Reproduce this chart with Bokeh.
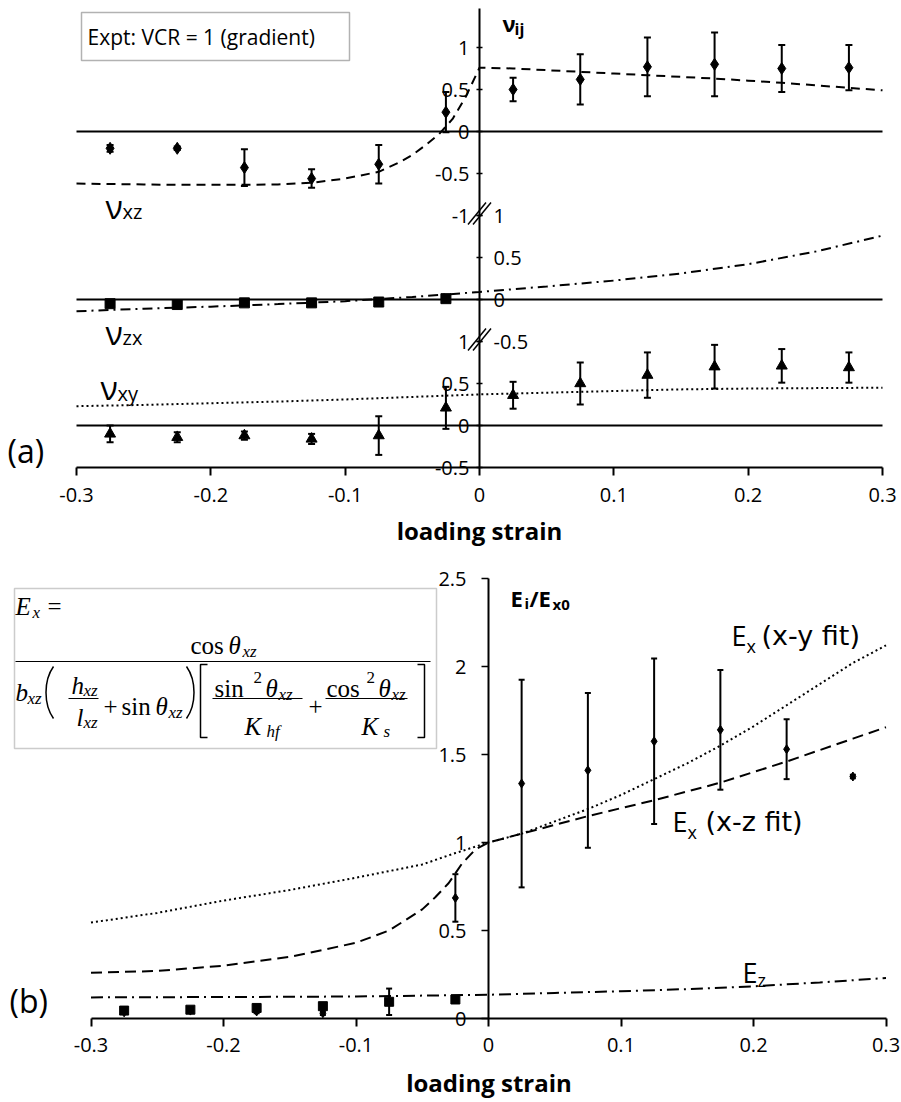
import numpy as np
from bokeh.plotting import figure
from bokeh.models import (LinearAxis, FixedTicker, Range1d, ColumnDataSource,
                          Whisker, TeeHead, BoxAnnotation)
from bokeh.layouts import column
from bokeh.embed import file_html
from bokeh.resources import INLINE
from bokeh.core.properties import value

# ================= DATA : panel (a) Poisson's ratios =================
strain = [-0.275, -0.225, -0.175, -0.125, -0.075, -0.025,
          0.025, 0.075, 0.125, 0.175, 0.225, 0.275]
nu_xz = [-0.20, -0.20, -0.43, -0.56, -0.39, 0.23, 0.50, 0.62, 0.77, 0.80, 0.75, 0.76]
nu_xz_err = [0.04, 0.02, 0.22, 0.11, 0.23, 0.24, 0.14, 0.30, 0.35, 0.38, 0.28, 0.27]
strain_zx = [-0.275, -0.225, -0.175, -0.125, -0.075, -0.025]
nu_zx = [-0.05, -0.06, -0.04, -0.04, -0.03, 0.01]
nu_xy = [-0.10, -0.14, -0.12, -0.16, -0.12, 0.21, 0.36, 0.50, 0.60, 0.70, 0.71, 0.69]
nu_xy_err = [0.10, 0.06, 0.05, 0.06, 0.23, 0.25, 0.16, 0.25, 0.27, 0.26, 0.20, 0.18]

fit_xz_x = [-0.3, -0.275, -0.25, -0.225, -0.2, -0.175, -0.15, -0.125, -0.1, -0.075,
            -0.06, -0.05, -0.04, -0.03, -0.02, -0.01, 0.0, 0.025, 0.05, 0.075, 0.1,
            0.125, 0.15, 0.175, 0.2, 0.225, 0.25, 0.275, 0.3]
fit_xz_y = [-0.62, -0.625, -0.63, -0.635, -0.635, -0.635, -0.63, -0.61, -0.56, -0.48,
            -0.37, -0.28, -0.16, -0.03, 0.15, 0.42, 0.76, 0.75, 0.73, 0.71, 0.69,
            0.67, 0.65, 0.63, 0.605, 0.58, 0.55, 0.52, 0.49]
fit_zx_x = [-0.3, -0.25, -0.2, -0.15, -0.1, -0.05, 0.0, 0.05, 0.1, 0.15, 0.2, 0.25, 0.3]
fit_zx_y = [-0.14, -0.11, -0.085, -0.055, -0.02, 0.03, 0.09, 0.155, 0.225, 0.31, 0.42, 0.57, 0.76]
fit_xy_x = [-0.3, -0.25, -0.2, -0.15, -0.1, -0.05, 0.0, 0.05, 0.1, 0.15, 0.2, 0.25, 0.3]
fit_xy_y = [0.23, 0.245, 0.265, 0.285, 0.31, 0.34, 0.37, 0.39, 0.41, 0.43, 0.44, 0.445, 0.45]

x_ticks = [-0.3, -0.2, -0.1, 0.0, 0.1, 0.2, 0.3]
x_tick_labels = ["-0.3", "-0.2", "-0.1", "0", "0.1", "0.2", "0.3"]
nu_top_ticks = [1.0, 0.5, 0.0, -0.5, -1.0]
nu_top_labels = ["1", "0.5", "0", "-0.5", "-1"]
nu_ticks = [1.0, 0.5, 0.0, -0.5]
nu_labels = ["1", "0.5", "0", "-0.5"]

# ================= DATA : panel (b) moduli =================
ex_x = [-0.275, -0.225, -0.175, -0.125, -0.025, 0.025, 0.075, 0.125, 0.175, 0.225, 0.275]
ex_y = [0.035, 0.045, 0.04, 0.03, 0.685, 1.335, 1.41, 1.575, 1.64, 1.53, 1.375]
ex_err = [0.01, 0.01, 0.01, 0.01, 0.135, 0.59, 0.44, 0.47, 0.34, 0.17, 0.01]
ez_x = [-0.275, -0.225, -0.175, -0.125, -0.075, -0.025]
ez_y = [0.045, 0.05, 0.06, 0.07, 0.095, 0.108]
ez_err = [0.01, 0.01, 0.01, 0.01, 0.075, 0.02]

fit_exy_x = [-0.3, -0.25, -0.2, -0.15, -0.1, -0.05, -0.025, 0.0, 0.025, 0.05, 0.075, 0.1,
             0.125, 0.15, 0.175, 0.2, 0.225, 0.25, 0.275, 0.3]
fit_exy_y = [0.545, 0.60, 0.67, 0.73, 0.80, 0.875, 0.94, 1.0, 1.05, 1.12, 1.19, 1.27,
             1.36, 1.45, 1.55, 1.66, 1.78, 1.90, 2.02, 2.12]
fit_exz_x = [-0.3, -0.25, -0.2, -0.15, -0.1, -0.075, -0.05, -0.04, -0.03, -0.02, -0.01, 0.0,
             0.025, 0.05, 0.075, 0.1, 0.125, 0.15, 0.175, 0.2, 0.225, 0.25, 0.275, 0.3]
fit_exz_y = [0.26, 0.27, 0.30, 0.35, 0.43, 0.50, 0.62, 0.69, 0.77, 0.88, 0.96, 1.0,
             1.05, 1.10, 1.15, 1.195, 1.24, 1.29, 1.34, 1.40, 1.46, 1.525, 1.59, 1.655]
fit_ez_x = [-0.3, -0.2, -0.1, 0.0, 0.05, 0.1, 0.15, 0.2, 0.25, 0.3]
fit_ez_y = [0.12, 0.122, 0.125, 0.135, 0.145, 0.155, 0.167, 0.183, 0.205, 0.23]

E_ticks = [0.0, 0.5, 1.0, 1.5, 2.0, 2.5]
E_labels = ["0", "0.5", "1", "1.5", "2", "2.5"]

# ================= layout helpers =================
FONT = "Open Sans"
WIDE = "DejaVu Sans"
SERIF = "Liberation Serif"
OFF_XZ, OFF_ZX, OFF_XY = 3.5, 1.5, 0.0     # offsets of the broken (stacked) axis
A_SX, A_X0, A_SY, A_Y0 = 806 / 0.6, 479.0, 84.0, 425.0
B_SX, B_X0, B_SY, B_Y0 = 1325.0, 488.0, 176.0, 1018.0
A_H = 556
B_TOP = float(A_H)


def ax(px): return (px - A_X0) / A_SX
def ay(py): return (A_Y0 - py) / A_SY
def bx(px): return (px - B_X0) / B_SX
def by(py): return (B_Y0 - py) / B_SY


def txt(p, x, y, s, size, font=FONT, style="normal", align="left", base="alphabetic"):
    p.text(x=[x], y=[y], text=[s], text_font=value(font), text_font_size=value(size),
           text_font_style=value(style), text_align=value(align),
           text_baseline=value(base), text_color="black")


def make_fig(h, xr, yr, x_at, tick_standoff, label_standoff):
    p = figure(width=901, height=h, x_range=xr, y_range=yr, output_backend="svg",
               toolbar_location=None, y_axis_location=None,
               min_border_left=0, min_border_right=0, min_border_top=0,
               min_border_bottom=0)
    p.outline_line_color = None
    p.grid.visible = False
    p.background_fill_color = "white"
    p.border_fill_color = "white"
    xa = p.xaxis[0]
    xa.fixed_location = x_at
    xa.ticker = FixedTicker(ticks=x_ticks)
    xa.major_label_overrides = dict(zip(x_ticks, x_tick_labels))
    xa.bounds = (-0.3, 0.3)
    xa.axis_line_width = 2
    xa.axis_line_color = "black"
    xa.major_tick_line_width = 2
    xa.major_tick_in = 0
    xa.major_tick_out = 8
    xa.minor_tick_line_color = None
    xa.major_label_text_font = FONT
    xa.major_label_text_font_size = "20px"
    xa.major_label_text_color = "black"
    xa.major_label_standoff = tick_standoff
    xa.axis_label = "loading strain"
    xa.axis_label_text_font = FONT
    xa.axis_label_text_font_style = "bold"
    xa.axis_label_text_font_size = "24px"
    xa.axis_label_text_color = "black"
    xa.axis_label_standoff = label_standoff
    return p


def yaxis(ticks, labels, side_standoff, bounds, tin, tout, line=True):
    a = LinearAxis(fixed_location=0, ticker=FixedTicker(ticks=ticks),
                   major_label_overrides=dict(zip(ticks, labels)), bounds=bounds,
                   axis_line_width=2, axis_line_color="black" if line else None,
                   major_tick_in=tin, major_tick_out=tout, major_tick_line_width=1.5,
                   minor_tick_line_color=None, major_label_standoff=side_standoff,
                   major_label_text_font=FONT, major_label_text_font_size="20px",
                   major_label_text_color="black")
    return a


def errbars(p, xs, ys, es, off, head):
    src = ColumnDataSource(dict(x=xs, lo=[y + off - e for y, e in zip(ys, es)],
                                up=[y + off + e for y, e in zip(ys, es)]))
    w = Whisker(base="x", lower="lo", upper="up", source=src, line_color="black", line_width=2,
                lower_head=TeeHead(size=head, line_width=2, line_color="black"),
                upper_head=TeeHead(size=head, line_width=2, line_color="black"))
    p.add_layout(w)


# ================= panel (a) =================
p1 = make_fig(A_H, Range1d(ax(0), ax(901)), Range1d(ay(A_H), ay(0)), -0.5, 12, 9)

left_ticks = [t + OFF_XZ for t in nu_top_ticks] + [t + OFF_XY for t in nu_ticks]
left_labels = nu_top_labels + nu_labels
p1.add_layout(yaxis(left_ticks, left_labels, 7, (-0.5, 4.96), 3, 3), "left")
right_ticks = [t + OFF_ZX for t in nu_ticks]
p1.add_layout(yaxis(right_ticks, nu_labels, 11, (-0.5, 4.96), 3, 3, line=False), "right")

# zero lines of the three stacked sub-panels
p1.segment(x0=[x_ticks[0]] * 3, x1=[x_ticks[-1]] * 3,
           y0=[OFF_XZ, OFF_ZX, OFF_XY], y1=[OFF_XZ, OFF_ZX, OFF_XY],
           line_color="black", line_width=2)

# axis breaks
for yc_px in (213, 339):
    for d in (-2.5, 2.5):
        p1.segment(x0=[ax(470 + d)], y0=[ay(yc_px + 11)], x1=[ax(488 + d)], y1=[ay(yc_px - 11)],
                   line_color="black", line_width=1.5)

# fits
p1.line(fit_xz_x, [v + OFF_XZ for v in fit_xz_y], line_color="black", line_width=2, line_dash="9 6")
p1.line(fit_zx_x, [v + OFF_ZX for v in fit_zx_y], line_color="black", line_width=2, line_dash="10 5 2 5")
p1.line(fit_xy_x, [v + OFF_XY for v in fit_xy_y], line_color="black", line_width=2, line_dash="2 3")

errbars(p1, strain, nu_xz, nu_xz_err, OFF_XZ, 7)
errbars(p1, strain, nu_xy, nu_xy_err, OFF_XY, 7)
p1.scatter(strain, [v + OFF_XZ for v in nu_xz], marker="diamond", size=12, color="black")
p1.scatter(strain_zx, [v + OFF_ZX for v in nu_zx], marker="square", size=10, color="black")
p1.scatter(strain, [v + OFF_XY for v in nu_xy], marker="triangle", size=11, color="black")

# texts
p1.add_layout(BoxAnnotation(left=ax(81), right=ax(349), top=ay(12), bottom=ay(60),
                            fill_color=None, line_color="black", line_width=1.5))
txt(p1, ax(87), ay(36), "Expt: VCR = 1 (gradient)", "21px", base="middle")
txt(p1, ax(105), ay(206), "ν", "32px")
txt(p1, ax(122), ay(211), "xz", "20px")
txt(p1, ax(105), ay(332), "ν", "32px")
txt(p1, ax(122), ay(337), "zx", "20px")
txt(p1, ax(100), ay(387), "ν", "32px")
txt(p1, ax(117), ay(393), "xy", "20px")
txt(p1, ax(502), ay(22), "ν", "22px", style="bold")
txt(p1, ax(514), ay(28), "ij", "16px", style="bold")
txt(p1, ax(7), ay(450), "(a)", "32px", base="middle")

# ================= panel (b) =================
p2 = make_fig(1102 - A_H, Range1d(bx(0), bx(901)), Range1d(by(1102), by(B_TOP)), 0.0, 11, 11)
p2.add_layout(yaxis(E_ticks, E_labels, 15, (0, 2.5), 0, 7), "left")

p2.line(fit_exy_x, fit_exy_y, line_color="black", line_width=2, line_dash="2 3")
p2.line(fit_exz_x, fit_exz_y, line_color="black", line_width=2, line_dash="11 6")
p2.line(fit_ez_x, fit_ez_y, line_color="black", line_width=2, line_dash="12 5 2 5")

errbars(p2, ex_x, ex_y, ex_err, 0.0, 6)
errbars(p2, ez_x, ez_y, ez_err, 0.0, 6)
p2.scatter(ex_x, ex_y, marker="diamond", size=9, color="black")
p2.scatter(ez_x, ez_y, marker="square", size=9, color="black")

txt(p2, bx(9), by(1000), "(b)", "32px", base="middle")
txt(p2, bx(510), by(597), "E", "22px", style="bold")
txt(p2, bx(524), by(602), "i", "15px", style="bold")
txt(p2, bx(529), by(597), "/E", "22px", style="bold")
txt(p2, bx(552), by(603), "x0", "15px", style="bold")
txt(p2, bx(731), by(635), "E", "27px")
txt(p2, bx(746), by(645), "x", "18px")
txt(p2, bx(761), by(635), "(x-y fit)", "27px", font=WIDE)
txt(p2, bx(672), by(821), "E", "27px")
txt(p2, bx(687), by(831), "x", "18px")
txt(p2, bx(705), by(821), "(x-z fit)", "27px", font=WIDE)
txt(p2, bx(742), by(972), "E", "27px")
txt(p2, bx(757), by(979), "z", "18px")

# ---- formula box ----
p2.add_layout(BoxAnnotation(left=bx(14), right=bx(436), top=by(588), bottom=by(748),
                            fill_color=None, line_color="#555555", line_width=1.5))
F, FS = "25px", "17px"
txt(p2, bx(15), by(606), "E", F, SERIF, "italic")
txt(p2, bx(32), by(612), "x", FS, SERIF, "italic")
txt(p2, bx(47), by(606), "=", F, SERIF)
txt(p2, bx(190), by(645), "cos", F, SERIF)
txt(p2, bx(228), by(645), "θ", F, SERIF, "italic")
txt(p2, bx(242), by(651), "xz", FS, SERIF, "italic")
# denominator
txt(p2, bx(15), by(692), "b", F, SERIF, "italic")
txt(p2, bx(27), by(698), "xz", FS, SERIF, "italic")
txt(p2, bx(71), by(685), "h", F, SERIF, "italic")
txt(p2, bx(83), by(690), "xz", FS, SERIF, "italic")
txt(p2, bx(76), by(717), "l", F, SERIF, "italic")
txt(p2, bx(83), by(722), "xz", FS, SERIF, "italic")
txt(p2, bx(103), by(706), "+", F, SERIF)
txt(p2, bx(121), by(706), "sin", F, SERIF)
txt(p2, bx(155), by(706), "θ", F, SERIF, "italic")
txt(p2, bx(168), by(712), "xz", FS, SERIF, "italic")
txt(p2, bx(214), by(688), "sin", F, SERIF)
txt(p2, bx(253), by(677), "2", FS, SERIF)
txt(p2, bx(265), by(688), "θ", F, SERIF, "italic")
txt(p2, bx(278), by(694), "xz", FS, SERIF, "italic")
txt(p2, bx(244), by(726), "K", F, SERIF, "italic")
txt(p2, bx(266), by(731), "hf", FS, SERIF, "italic")
txt(p2, bx(308), by(706), "+", F, SERIF)
txt(p2, bx(326), by(688), "cos", F, SERIF)
txt(p2, bx(366), by(677), "2", FS, SERIF)
txt(p2, bx(378), by(688), "θ", F, SERIF, "italic")
txt(p2, bx(391), by(694), "xz", FS, SERIF, "italic")
txt(p2, bx(361), by(726), "K", F, SERIF, "italic")
txt(p2, bx(383), by(731), "s", FS, SERIF, "italic")
# fraction bars
p2.segment(x0=[bx(15), bx(68), bx(212), bx(325)], x1=[bx(430), bx(98), bx(302), bx(407)],
           y0=[by(661), by(698), by(698), by(698)], y1=[by(661), by(698), by(698), by(698)],
           line_color="black", line_width=1.2)
# parentheses and brackets
p2.bezier(x0=[bx(53), bx(186)], y0=[by(666), by(666)], x1=[bx(53), bx(186)], y1=[by(718), by(718)],
          cx0=[bx(43), bx(196)], cy0=[by(680), by(680)], cx1=[bx(43), bx(196)], cy1=[by(704), by(704)],
          line_color="black", line_width=1.5)
p2.multi_line(xs=[[bx(207), bx(200), bx(200), bx(207)], [bx(417), bx(424), bx(424), bx(417)]],
              ys=[[by(664), by(664), by(737), by(737)], [by(664), by(664), by(737), by(737)]],
              line_color="black", line_width=1.5)

layout = column(p1, p2, spacing=0)
open("out.html", "w").write(file_html(layout, INLINE))
